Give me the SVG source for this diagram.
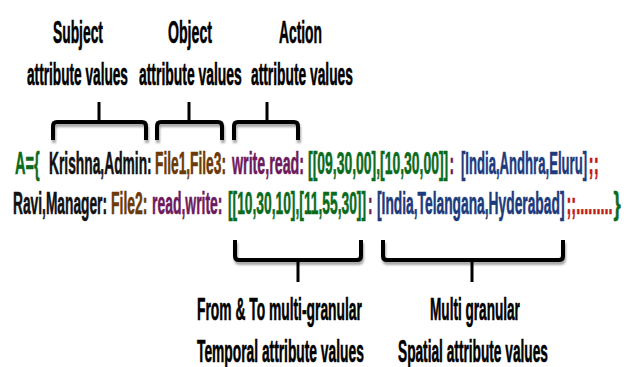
<svg xmlns="http://www.w3.org/2000/svg" width="627" height="367" viewBox="0 0 627 367">
  <defs>
    <filter id="soft-shadow" x="-10%" y="-30%" width="120%" height="180%">
      <feDropShadow dx="1" dy="3" stdDeviation="1.2" flood-color="#000" flood-opacity="0.35"/>
    </filter>
  </defs>
  <style>
    text { font-family: "Liberation Sans", Arial, sans-serif; font-weight: bold; font-size: 31px; stroke-width: 0.6; }
    .lbl { fill: #000; stroke: #000; }
    .blk { fill: #111; stroke: #111; }
    .grn { fill: #0b6b1c; stroke: #0b6b1c; }
    .brn { fill: #6b3a06; stroke: #6b3a06; }
    .pur { fill: #6e1a5c; stroke: #6e1a5c; }
    .blu { fill: #1c3a7c; stroke: #1c3a7c; }
    .red { fill: #c01818; stroke: #c01818; }
    .brace { fill: none; stroke: #000; stroke-width: 4; stroke-linejoin: round; stroke-linecap: butt; filter: url(#soft-shadow); }
    .tick { fill: none; stroke: #000; stroke-width: 3; }
  </style>

  <rect width="627" height="367" fill="#fff"/>

  <!-- Labels above the expression (condensed bold type) -->
  <g id="subject-label">
    <text class="lbl" transform="translate(53,43) scale(0.446,1)">Subject</text>
    <text class="lbl" transform="translate(27,85) scale(0.441,1)">attribute values</text>
  </g>
  <g id="object-label">
    <text class="lbl" transform="translate(168,43) scale(0.456,1)">Object</text>
    <text class="lbl" transform="translate(139,85) scale(0.449,1)">attribute values</text>
  </g>
  <g id="action-label">
    <text class="lbl" transform="translate(279,43) scale(0.446,1)">Action</text>
    <text class="lbl" transform="translate(251,85) scale(0.445,1)">attribute values</text>
  </g>

  <!-- Braces linking labels to parts of the expression -->
  <g id="connectors">
    <path class="brace" d="M53,140 V126 Q53,122 57,122 H142 Q146,122 146,126 V140"/>
    <path class="tick" d="M99,122 V102"/>
    <path class="brace" d="M157,140 V126 Q157,122 161,122 H218 Q222,122 222,126 V140"/>
    <path class="tick" d="M189,122 V102"/>
    <path class="brace" d="M234,140 V126 Q234,122 238,122 H294 Q298,122 298,126 V140"/>
    <path class="tick" d="M267,122 V102"/>

    <path class="brace" d="M235,240 V256 Q235,260 239,260 H357 Q361,260 361,256 V240"/>
    <path class="tick" d="M298,260 V282"/>
    <path class="brace" d="M383,240 V256 Q383,260 387,260 H559 Q563,260 563,256 V240"/>
    <path class="tick" d="M472,260 V282"/>
  </g>

  <!-- Expression, first line -->
  <g id="expression-line-1">
    <text class="grn" transform="translate(15,174) scale(0.47,1)">A={</text>
    <text class="blk" transform="translate(49,174) scale(0.445,1)">Krishna,Admin:</text>
    <text class="brn" transform="translate(155,174) scale(0.443,1)">File1,File3:</text>
    <text class="pur" transform="translate(232,174) scale(0.46,1)">write,read:</text>
    <text class="grn" transform="translate(308,174) scale(0.45,1)">[[09,30,00],[10,30,00]]</text>
    <text class="pur" transform="translate(449.5,174) scale(0.445,1)">:</text>
    <text class="blu" transform="translate(461,174) scale(0.423,1)">[India,Andhra,Eluru]</text>
    <text class="red" transform="translate(588.5,174) scale(0.5,1)">;;</text>
  </g>

  <!-- Expression, second line -->
  <g id="expression-line-2">
    <text class="blk" transform="translate(13,214) scale(0.444,1)">Ravi,Manager:</text>
    <text class="brn" transform="translate(111,214) scale(0.45,1)">File2:</text>
    <text class="pur" transform="translate(152,214) scale(0.45,1)">read,write:</text>
    <text class="grn" transform="translate(228,214) scale(0.445,1)">[[10,30,10],[11,55,30]]</text>
    <text class="pur" transform="translate(368,214) scale(0.445,1)">:</text>
    <text class="blu" transform="translate(377,214) scale(0.445,1)">[India,Telangana,Hyderabad]</text>
    <text class="red" transform="translate(566.5,214) scale(0.47,1)">;;.........</text>
    <text class="grn" transform="translate(613.5,214) scale(0.6,1)">}</text>
  </g>

  <!-- Labels below the expression -->
  <g id="temporal-label">
    <text class="lbl" transform="translate(197,320) scale(0.446,1)">From &amp; To multi-granular</text>
    <text class="lbl" transform="translate(197,362) scale(0.445,1)">Temporal attribute values</text>
  </g>
  <g id="spatial-label">
    <text class="lbl" transform="translate(430,320) scale(0.439,1)">Multi granular</text>
    <text class="lbl" transform="translate(398,362) scale(0.442,1)">Spatial attribute values</text>
  </g>
</svg>
